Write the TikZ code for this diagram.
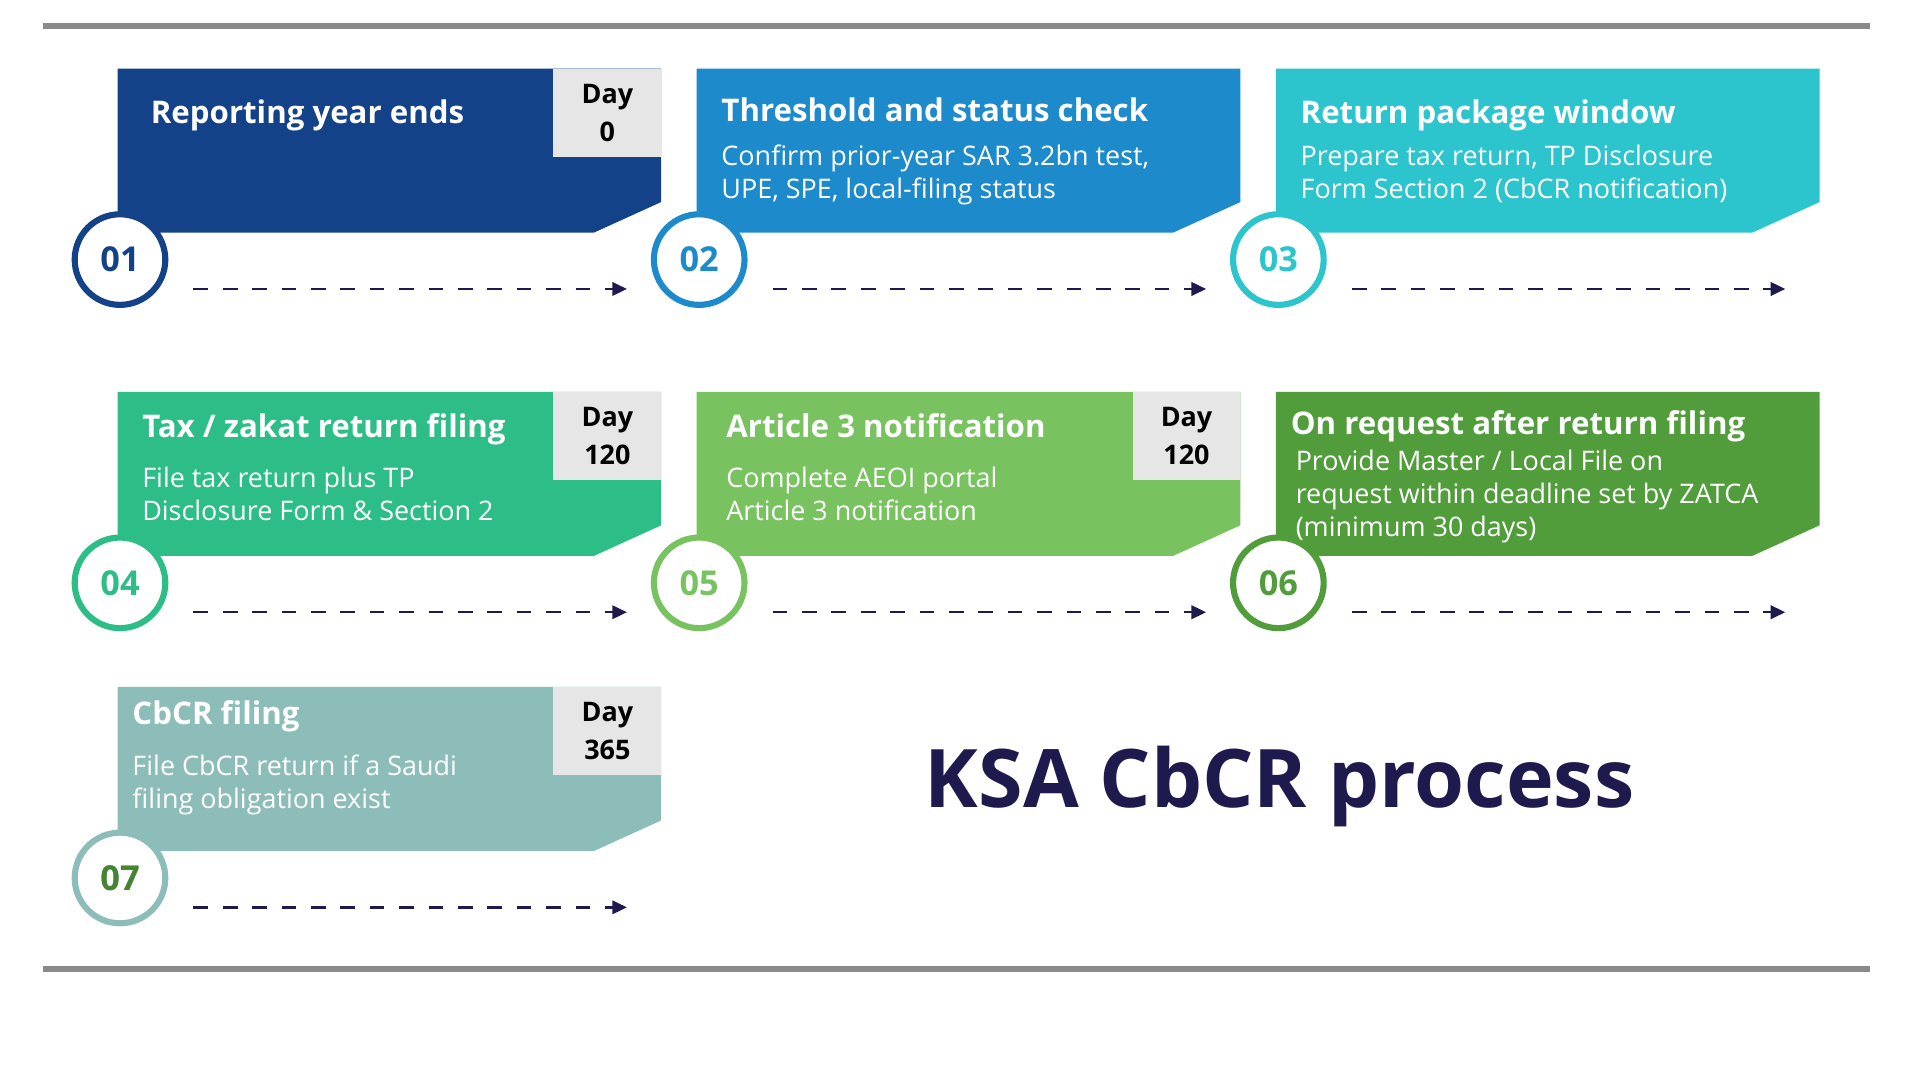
\documentclass[tikz,border=0pt]{standalone}
\usepackage{fontspec}
\setmainfont{Open Sans}
\usetikzlibrary{arrows.meta}
\definecolor{navy}{HTML}{1E1A4D}
\definecolor{cA}{HTML}{134289}
\definecolor{cB}{HTML}{1C8ACB}
\definecolor{cC}{HTML}{2CC5CE}
\definecolor{cD}{HTML}{2DBE88}
\definecolor{cE}{HTML}{78C25F}
\definecolor{cF}{HTML}{519C3B}
\definecolor{cG}{HTML}{8DBDB8}
\definecolor{rule}{HTML}{8A8A8A}
\definecolor{daybg}{HTML}{E6E6E6}
\tikzset{
    head/.style={anchor=base west, text=white, font=\fontsize{25.5}{30}\selectfont\bfseries, inner sep=0},
    body/.style={anchor=base west, text=white, align=left, font=\fontsize{22}{27}\selectfont, inner sep=0},
    day/.style={fill=daybg, minimum width=88, minimum height=72, inner sep=0, align=center,
        font=\fontsize{22}{31}\selectfont\bfseries, text=black},
    step/.style={circle, draw=#1, fill=white, line width=5pt, minimum size=74, inner sep=0,
        text=#1, font=\fontsize{28}{30}\selectfont\bfseries},
    flow/.style={navy, line width=2pt, dash pattern=on 12pt off 12pt, -{Triangle[length=12pt,width=11pt]}},
}
\newcommand{\card}[3]{% x, ytop, colour
    \fill[#3] (#1,#2) -- ++(444,0) -- ++(0,-109) -- ++(-55,-25) -- ++(-389,0) -- cycle;}
\begin{document}
\begin{tikzpicture}[x=1pt,y=1pt]
    \useasboundingbox (0,0) rectangle (1568,882);
    \fill[white] (0,0) rectangle (1568,882);
    % rules
    \draw[rule, line width=5pt] (35,861) -- (1527,861);
    \draw[rule, line width=5pt] (35,91) -- (1527,91);

    % cards
    \card{96}{826}{cA}
    \card{569}{826}{cB}
    \card{1042}{826}{cC}
    \card{96}{562}{cD}
    \card{569}{562}{cE}
    \card{1042}{562}{cF}
    \card{96}{321}{cG}

    % day boxes
    \node[day] (day1) at (496,790) {Day\\0};
    \node[day] (day4) at (496,526) {Day\\120};
    \node[day] (day5) at (969,526) {Day\\120};
    \node[day] (day7) at (496,285) {Day\\365};

    % texts (body nodes sit on the baseline of their last line)
    \node[head] (h1) at (123,781) {Reporting year ends};
    \node[head] (h2) at (589,783) {Threshold and status check};
    \node[body] (b2) at (589,720) {Confirm prior-year SAR 3.2bn test,\\UPE, SPE, local-filing status};
    \node[head] (h3) at (1062,781) {Return package window};
    \node[body] (b3) at (1062,720) {Prepare tax return, TP Disclosure\\Form Section 2 (CbCR notification)};
    \node[head] (h4) at (116,525) {Tax / zakat return filing};
    \node[body] (b4) at (116,457) {File tax return plus TP\\Disclosure Form \& Section 2};
    \node[head] (h5) at (593,525) {Article 3 notification};
    \node[body] (b5) at (593,457) {Complete AEOI portal\\Article 3 notification};
    \node[head] (h6) at (1054,527) {On request after return filing};
    \node[body] (b6) at (1058,444) {Provide Master / Local File on\\request within deadline set by ZATCA\\(minimum 30 days)};
    \node[head] (h7) at (108,290) {CbCR filing};
    \node[body] (b7) at (108,222) {File CbCR return if a Saudi\\filing obligation exist};

    % steps and arrows
    \foreach \n/\x/\y/\c in {01/98/670/cA, 02/571/670/cB, 03/1044/670/cC,
        04/98/406/cD, 05/571/406/cE, 06/1044/406/cF, 07/98/165/cG} {
        \node[step=\c] (s\n) at (\x,\y) {\n};
        \coordinate (a\n) at (\x+60,\y-24);
        \coordinate (e\n) at (\x+414,\y-24);
        \draw[flow] (a\n) -- (e\n);
    }
    \node[text=cF!85!black, font=\fontsize{28}{30}\selectfont\bfseries] at (s07) {07};

    % title
    \node[text=navy, font=\fontsize{66}{70}\selectfont\bfseries] (title) at (1045,240) {KSA CbCR process};
\end{tikzpicture}
\end{document}
